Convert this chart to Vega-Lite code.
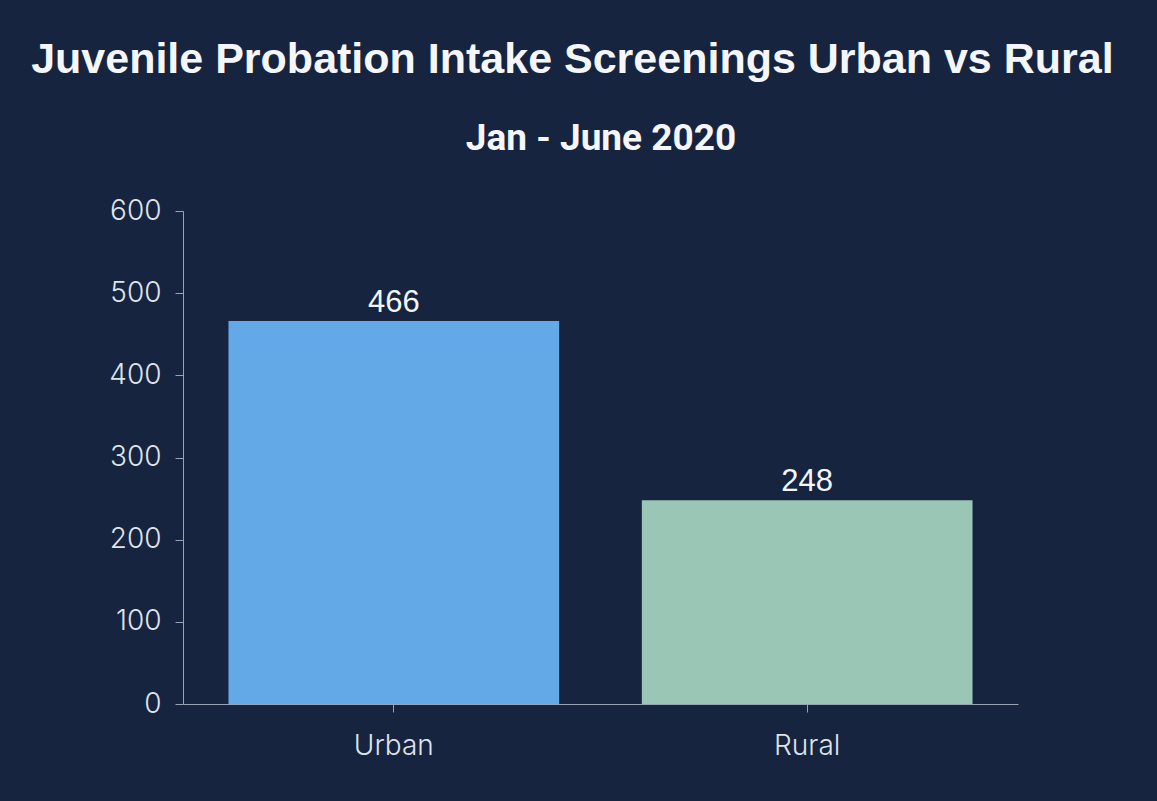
{
  "$schema": "https://vega.github.io/schema/vega-lite/v6.json",
  "width": 835,
  "height": 493,
  "autosize": {"type": "none"},
  "padding": {"left": 183, "top": 211, "right": 139, "bottom": 97},
  "background": "#16243f",
  "title": {
    "text": "Juvenile Probation Intake Screenings Urban vs Rural",
    "anchor": "middle",
    "frame": "bounds",
    "font": "Liberation Sans",
    "fontSize": 43,
    "fontWeight": "bold",
    "color": "#f4f6fa",
    "offset": 37,
    "dx": 9
  },
  "data": {
    "values": [
      {"area": "Urban", "screenings": 466},
      {"area": "Rural", "screenings": 248}
    ]
  },
  "resolve": {"axis": {"x": "independent"}},
  "layer": [
    {
      "mark": {"type": "bar"},
      "encoding": {
        "x": {
          "field": "area",
          "type": "nominal",
          "sort": ["Urban", "Rural"],
          "scale": {"paddingInner": 0.2, "paddingOuter": 0.11},
          "axis": {
            "orient": "bottom",
            "title": null,
            "labelAngle": 0,
            "labelFont": "Inter",
            "labelFontWeight": 300,
            "labelFontSize": 28,
            "labelColor": "#dfe3ea",
            "labelPadding": 20,
            "tickSize": 8,
            "tickColor": "#9aa3b5",
            "domainColor": "#9aa3b5",
            "grid": false
          }
        },
        "y": {
          "field": "screenings",
          "type": "quantitative",
          "scale": {"domain": [0, 600]},
          "axis": {
            "title": null,
            "values": [0, 100, 200, 300, 400, 500, 600],
            "labelFont": "Inter",
            "labelFontWeight": 300,
            "labelFontSize": 28,
            "labelColor": "#dfe3ea",
            "labelPadding": 14,
            "tickSize": 8,
            "tickColor": "#9aa3b5",
            "domainColor": "#9aa3b5",
            "grid": false
          }
        },
        "color": {
          "field": "area",
          "type": "nominal",
          "scale": {"domain": ["Urban", "Rural"], "range": ["#64a9e7", "#9ac6b6"]},
          "legend": null
        }
      }
    },
    {
      "mark": {
        "type": "text",
        "baseline": "alphabetic",
        "dy": -9,
        "font": "Liberation Sans",
        "fontSize": 31,
        "color": "#f4f6fa"
      },
      "encoding": {
        "x": {
          "field": "area",
          "type": "nominal",
          "sort": ["Urban", "Rural"],
          "axis": {
            "orient": "top",
            "title": "Jan - June 2020",
            "titleFont": "Roboto",
            "titleFontSize": 37,
            "titleFontWeight": "bold",
            "titleColor": "#f4f6fa",
            "titlePadding": 54,
            "labels": false,
            "ticks": false,
            "domain": false,
            "grid": false
          }
        },
        "y": {"field": "screenings", "type": "quantitative"},
        "text": {"field": "screenings", "type": "quantitative"}
      }
    }
  ],
  "config": {
    "view": {"stroke": null}
  }
}
